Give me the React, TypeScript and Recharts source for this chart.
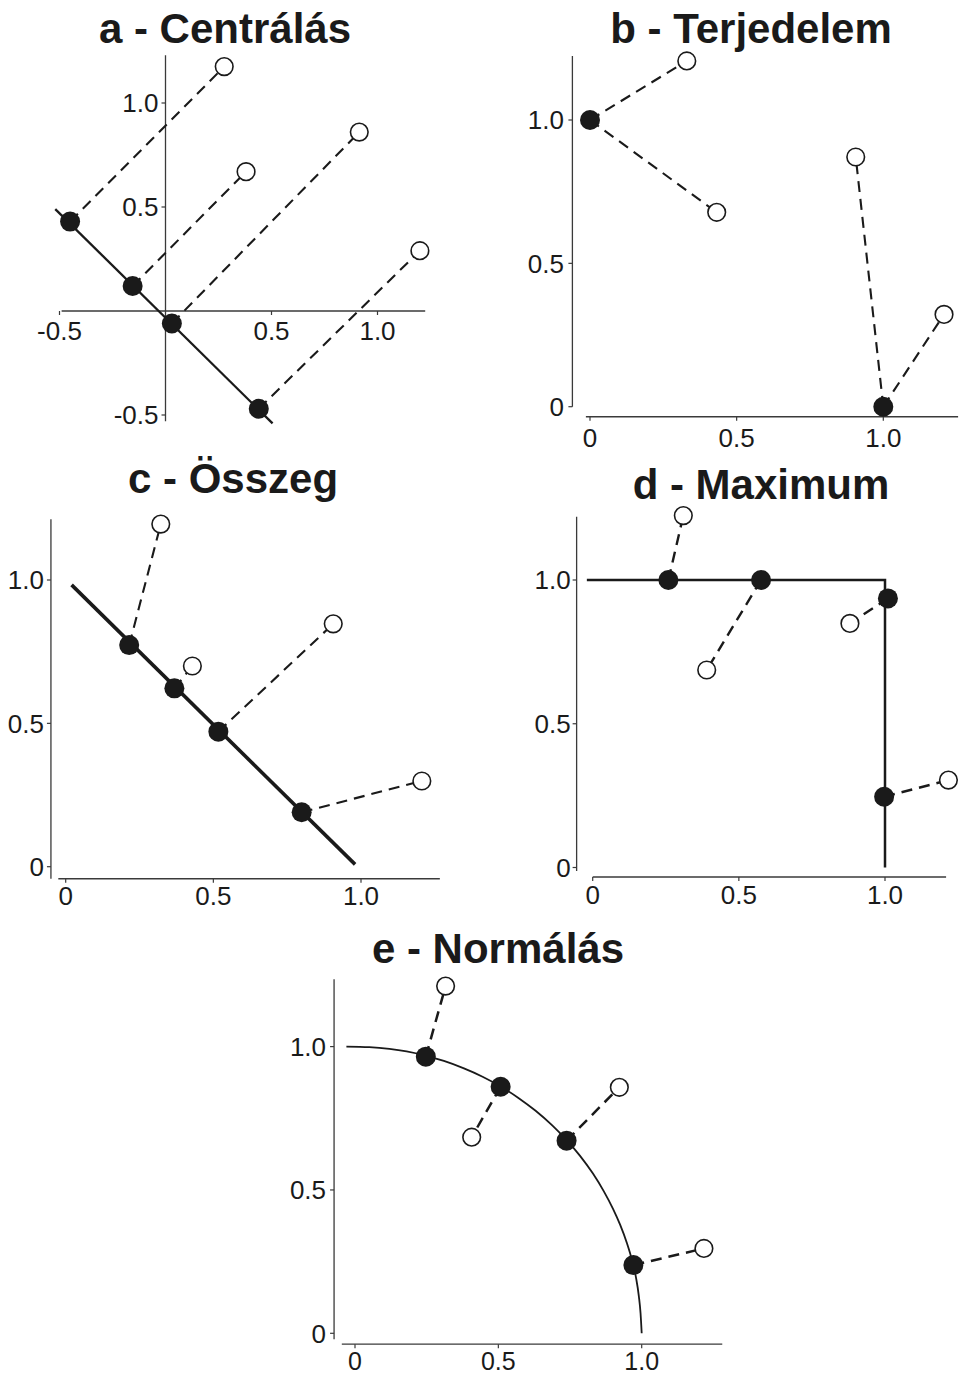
import React from "react";
import { ComposedChart, Line, Scatter, XAxis, YAxis, ReferenceLine } from "recharts";

type Pt = { x: number; y: number };

const INK = "#1a1a1a";
const AXIS = "#3a3a3a";
const FONT = "'Liberation Sans', Arial, Helvetica, sans-serif";
const TICK_FONT = 26;

// tick values + labels
const ticks01 = [0, 0.5, 1];
const ticks01Labels = ["0", "0.5", "1.0"];
const ticksA = [-0.5, 0.5, 1];
const ticksALabels = ["-0.5", "0.5", "1.0"];

// a - Centrálás
const aFilled: Pt[] = [
  { x: -0.45, y: 0.43 },
  { x: -0.155, y: 0.12 },
  { x: 0.03, y: -0.06 },
  { x: 0.44, y: -0.47 },
];
const aOpen: Pt[] = [
  { x: 0.277, y: 1.175 },
  { x: 0.38, y: 0.67 },
  { x: 0.914, y: 0.86 },
  { x: 1.2, y: 0.29 },
];
const aFrom = [0, 1, 2, 3];
const aSolid: Pt[] = [
  { x: -0.52, y: 0.49 },
  { x: 0.505, y: -0.54 },
];

// b - Terjedelem
const bFilled: Pt[] = [
  { x: 0, y: 1 },
  { x: 1, y: 0 },
];
const bOpen: Pt[] = [
  { x: 0.33, y: 1.206 },
  { x: 0.432, y: 0.678 },
  { x: 0.906, y: 0.871 },
  { x: 1.207, y: 0.322 },
];
const bFrom = [0, 0, 1, 1];
const bSolid: Pt[] = [];

// c - Összeg
const cFilled: Pt[] = [
  { x: 0.215, y: 0.773 },
  { x: 0.368, y: 0.622 },
  { x: 0.517, y: 0.471 },
  { x: 0.799, y: 0.19 },
];
const cOpen: Pt[] = [
  { x: 0.322, y: 1.195 },
  { x: 0.429, y: 0.7 },
  { x: 0.906, y: 0.847 },
  { x: 1.206, y: 0.299 },
];
const cFrom = [0, 1, 2, 3];
const cSolid: Pt[] = [
  { x: 0.02, y: 0.983 },
  { x: 0.98, y: 0.008 },
];

// d - Maximum
const dFilled: Pt[] = [
  { x: 0.259, y: 1.0 },
  { x: 0.576, y: 1.0 },
  { x: 1.01, y: 0.936 },
  { x: 0.997, y: 0.246 },
];
const dOpen: Pt[] = [
  { x: 0.31, y: 1.224 },
  { x: 0.39, y: 0.687 },
  { x: 0.88, y: 0.849 },
  { x: 1.217, y: 0.304 },
];
const dFrom = [0, 1, 2, 3];
const dSolid: Pt[] = [
  { x: -0.02, y: 1 },
  { x: 1, y: 1 },
  { x: 1, y: 0 },
];

// e - Normálás
const eFilled: Pt[] = [
  { x: 0.247, y: 0.965 },
  { x: 0.508, y: 0.86 },
  { x: 0.738, y: 0.672 },
  { x: 0.971, y: 0.238 },
];
const eOpen: Pt[] = [
  { x: 0.316, y: 1.211 },
  { x: 0.407, y: 0.684 },
  { x: 0.922, y: 0.858 },
  { x: 1.217, y: 0.296 },
];
const eFrom = [0, 1, 2, 3];
const eArc: Pt[] = [
  { x: -0.03, y: 1.0 },
  { x: 0.05, y: 0.998 },
  { x: 0.12, y: 0.992 },
  { x: 0.18, y: 0.983 },
  { x: 0.247, y: 0.968 },
  { x: 0.31, y: 0.95 },
  { x: 0.38, y: 0.924 },
  { x: 0.445, y: 0.895 },
  { x: 0.508, y: 0.861 },
  { x: 0.57, y: 0.821 },
  { x: 0.63, y: 0.776 },
  { x: 0.688, y: 0.725 },
  { x: 0.738, y: 0.674 },
  { x: 0.785, y: 0.619 },
  { x: 0.83, y: 0.557 },
  { x: 0.868, y: 0.495 },
  { x: 0.9, y: 0.434 },
  { x: 0.925, y: 0.378 },
  { x: 0.948, y: 0.316 },
  { x: 0.966, y: 0.256 },
  { x: 0.98, y: 0.195 },
  { x: 0.99, y: 0.13 },
  { x: 0.996, y: 0.07 },
  { x: 1.0, y: 0.0 },
];

type PanelCfg = {
  title: string;
  titleX: number;
  titleBase: number;
  box: { left: number; top: number; width: number; height: number };
  ox: number;
  oy: number;
  sx: number;
  sy: number;
  xDomain: [number, number];
  yDomain: [number, number];
  filled: Pt[];
  open: Pt[];
  from: number[];
  solid: Pt[];
  solidWidth: number;
  curve?: boolean;
  dashWidth: number;
  cross?: boolean;
  xLine: [Pt, Pt];
  yLine: [Pt, Pt];
  xTickMargin: number;
  yTickMargin: number;
  xTickFont?: number;
};

const panels: PanelCfg[] = [
  {
    title: "a - Centrálás",
    titleX: 225,
    titleBase: 43,
    box: { left: 0, top: 0, width: 470, height: 455 },
    ox: 165.5, oy: 311, sx: 212, sy: 208,
    xDomain: [-0.6, 1.3],
    yDomain: [-0.6, 1.3],
    filled: aFilled, open: aOpen, from: aFrom,
    solid: aSolid, solidWidth: 2.3, dashWidth: 2.1,
    cross: true,
    xLine: [{ x: -0.49, y: 0 }, { x: 1.225, y: 0 }],
    yLine: [{ x: 0, y: -0.53 }, { x: 0, y: 1.23 }],
    xTickMargin: 8, yTickMargin: 4,
  },
  {
    title: "b - Terjedelem",
    titleX: 751,
    titleBase: 43.5,
    box: { left: 480, top: 0, width: 479, height: 460 },
    ox: 590, oy: 406.7, sx: 293.3, sy: 286.7,
    xDomain: [-0.06, 1.255],
    yDomain: [-0.035, 1.25],
    filled: bFilled, open: bOpen, from: bFrom,
    solid: bSolid, solidWidth: 2, dashWidth: 2.1,
    xLine: [{ x: -0.014, y: -0.035 }, { x: 1.255, y: -0.035 }],
    yLine: [{ x: -0.06, y: 0 }, { x: -0.06, y: 1.223 }],
    xTickMargin: 8, yTickMargin: 4.5,
  },
  {
    title: "c - Összeg",
    titleX: 233,
    titleBase: 493.5,
    box: { left: 0, top: 460, width: 470, height: 460 },
    ox: 65.7, oy: 866.7, sx: 295.3, sy: 286.7,
    xDomain: [-0.05, 1.27],
    yDomain: [-0.042, 1.25],
    filled: cFilled, open: cOpen, from: cFrom,
    solid: cSolid, solidWidth: 3.6, dashWidth: 2.1,
    xLine: [{ x: -0.025, y: -0.042 }, { x: 1.267, y: -0.042 }],
    yLine: [{ x: -0.05, y: -0.042 }, { x: -0.05, y: 1.212 }],
    xTickMargin: 3.5, yTickMargin: 3,
  },
  {
    title: "d - Maximum",
    titleX: 761,
    titleBase: 499.5,
    box: { left: 480, top: 460, width: 479, height: 460 },
    ox: 592.7, oy: 867.5, sx: 292.3, sy: 287.5,
    xDomain: [-0.055, 1.22],
    yDomain: [-0.033, 1.25],
    filled: dFilled, open: dOpen, from: dFrom,
    solid: dSolid, solidWidth: 2.5, dashWidth: 2.4,
    xLine: [{ x: 0, y: -0.033 }, { x: 1.209, y: -0.033 }],
    yLine: [{ x: -0.055, y: -0.012 }, { x: -0.055, y: 1.22 }],
    xTickMargin: 5, yTickMargin: 2,
  },
  {
    title: "e - Normálás",
    titleX: 498,
    titleBase: 963.5,
    box: { left: 250, top: 920, width: 500, height: 458 },
    ox: 355, oy: 1333.3, sx: 286.7, sy: 286.7,
    xDomain: [-0.073, 1.285],
    yDomain: [-0.038, 1.25],
    filled: eFilled, open: eOpen, from: eFrom,
    solid: eArc, solidWidth: 1.8, curve: true, dashWidth: 2.5,
    xLine: [{ x: -0.046, y: -0.038 }, { x: 1.281, y: -0.038 }],
    yLine: [{ x: -0.073, y: -0.021 }, { x: -0.073, y: 1.235 }],
    xTickMargin: 4.5, yTickMargin: 4,
    xTickFont: 25,
  },
];

const filledDot = (props: any) => (
  <circle cx={props.cx} cy={props.cy} r={10} fill={INK} />
);
const openDot = (props: any) => (
  <circle cx={props.cx} cy={props.cy} r={8.8} fill="#ffffff" stroke={INK} strokeWidth={1.6} />
);

const fmt01 = (v: number) => {
  const i = ticks01.indexOf(v);
  return i >= 0 ? ticks01Labels[i] : String(v);
};

function Panel({ p }: { p: PanelCfg }) {
  const yw = p.cross ? 0 : 48;
  const xh = p.cross ? 0 : 30;
  const plotLeft = p.ox + p.xDomain[0] * p.sx;
  const plotRight = p.ox + p.xDomain[1] * p.sx;
  const plotTop = p.oy - p.yDomain[1] * p.sy;
  const plotBottom = p.oy - p.yDomain[0] * p.sy;
  const margin = {
    left: plotLeft - p.box.left - yw,
    right: p.box.left + p.box.width - plotRight,
    top: plotTop - p.box.top,
    bottom: p.box.top + p.box.height - plotBottom - xh,
  };
  const links = p.open.map((o, i) => [p.filled[p.from[i]], o]);
  const tdx = 4 / p.sx;
  const tdy = 4 / p.sy;

  return (
    <div style={{ position: "absolute", left: p.box.left, top: p.box.top }}>
      <ComposedChart width={p.box.width} height={p.box.height} margin={margin}>
        <XAxis
          type="number"
          dataKey="x"
          domain={p.xDomain}
          hide={!!p.cross}
          ticks={ticks01}
          interval={0}
          tickFormatter={fmt01}
          axisLine={false}
          tickSize={4}
          tickMargin={p.xTickMargin}
          tickLine={{ stroke: AXIS, strokeWidth: 1.2 }}
          tick={{ fill: INK, fontSize: p.xTickFont ?? TICK_FONT }}
          height={xh}
        />
        <YAxis
          type="number"
          dataKey="y"
          domain={p.yDomain}
          hide={!!p.cross}
          ticks={ticks01}
          interval={0}
          tickFormatter={fmt01}
          axisLine={false}
          tickSize={4}
          tickMargin={p.yTickMargin}
          tickLine={{ stroke: AXIS, strokeWidth: 1.2 }}
          tick={{ fill: INK, fontSize: TICK_FONT }}
          width={yw}
        />
        <ReferenceLine segment={p.xLine} stroke={AXIS} strokeWidth={1.3} ifOverflow="visible" />
        <ReferenceLine segment={p.yLine} stroke={AXIS} strokeWidth={1.3} ifOverflow="visible" />
        {p.cross &&
          ticksA.map((v, i) => (
            <ReferenceLine
              key={"xt" + i}
              segment={[{ x: v, y: 0 }, { x: v, y: -tdy }]}
              stroke={AXIS}
              strokeWidth={1.2}
              ifOverflow="visible"
              label={{ value: ticksALabels[i], position: "bottom", offset: 7, fill: INK, fontSize: TICK_FONT }}
            />
          ))}
        {p.cross &&
          ticksA.map((v, i) => (
            <ReferenceLine
              key={"yt" + i}
              segment={[{ x: -tdx, y: v }, { x: 0, y: v }]}
              stroke={AXIS}
              strokeWidth={1.2}
              ifOverflow="visible"
              label={{ value: ticksALabels[i], position: "left", offset: 3, fill: INK, fontSize: TICK_FONT }}
            />
          ))}
        {links.map((seg, i) => (
          <Line
            key={"l" + i}
            data={seg}
            dataKey="y"
            type="linear"
            stroke={INK}
            strokeWidth={p.dashWidth}
            strokeDasharray="11 7"
            dot={false}
            activeDot={false}
            isAnimationActive={false}
          />
        ))}
        {p.solid.length > 0 && (
          <Line
            data={p.solid}
            dataKey="y"
            type={p.curve ? "monotone" : "linear"}
            stroke={INK}
            strokeWidth={p.solidWidth}
            dot={false}
            activeDot={false}
            isAnimationActive={false}
          />
        )}
        <Scatter data={p.open} dataKey="y" shape={openDot} isAnimationActive={false} />
        <Scatter data={p.filled} dataKey="y" shape={filledDot} isAnimationActive={false} />
      </ComposedChart>
    </div>
  );
}

export default function App() {
  return (
    <div
      style={{
        position: "absolute",
        left: 0,
        top: 0,
        width: 959,
        height: 1378,
        background: "#ffffff",
        fontFamily: FONT,
        overflow: "hidden",
      }}
    >
      {panels.map((p) => (
        <Panel key={p.title} p={p} />
      ))}
      {panels.map((p) => (
        <div
          key={"t" + p.title}
          style={{
            position: "absolute",
            left: p.titleX - 200,
            width: 400,
            top: p.titleBase - 35.5,
            textAlign: "center",
            fontWeight: "bold",
            fontSize: 42,
            lineHeight: "42px",
            color: INK,
            whiteSpace: "nowrap",
          }}
        >
          {p.title}
        </div>
      ))}
    </div>
  );
}
